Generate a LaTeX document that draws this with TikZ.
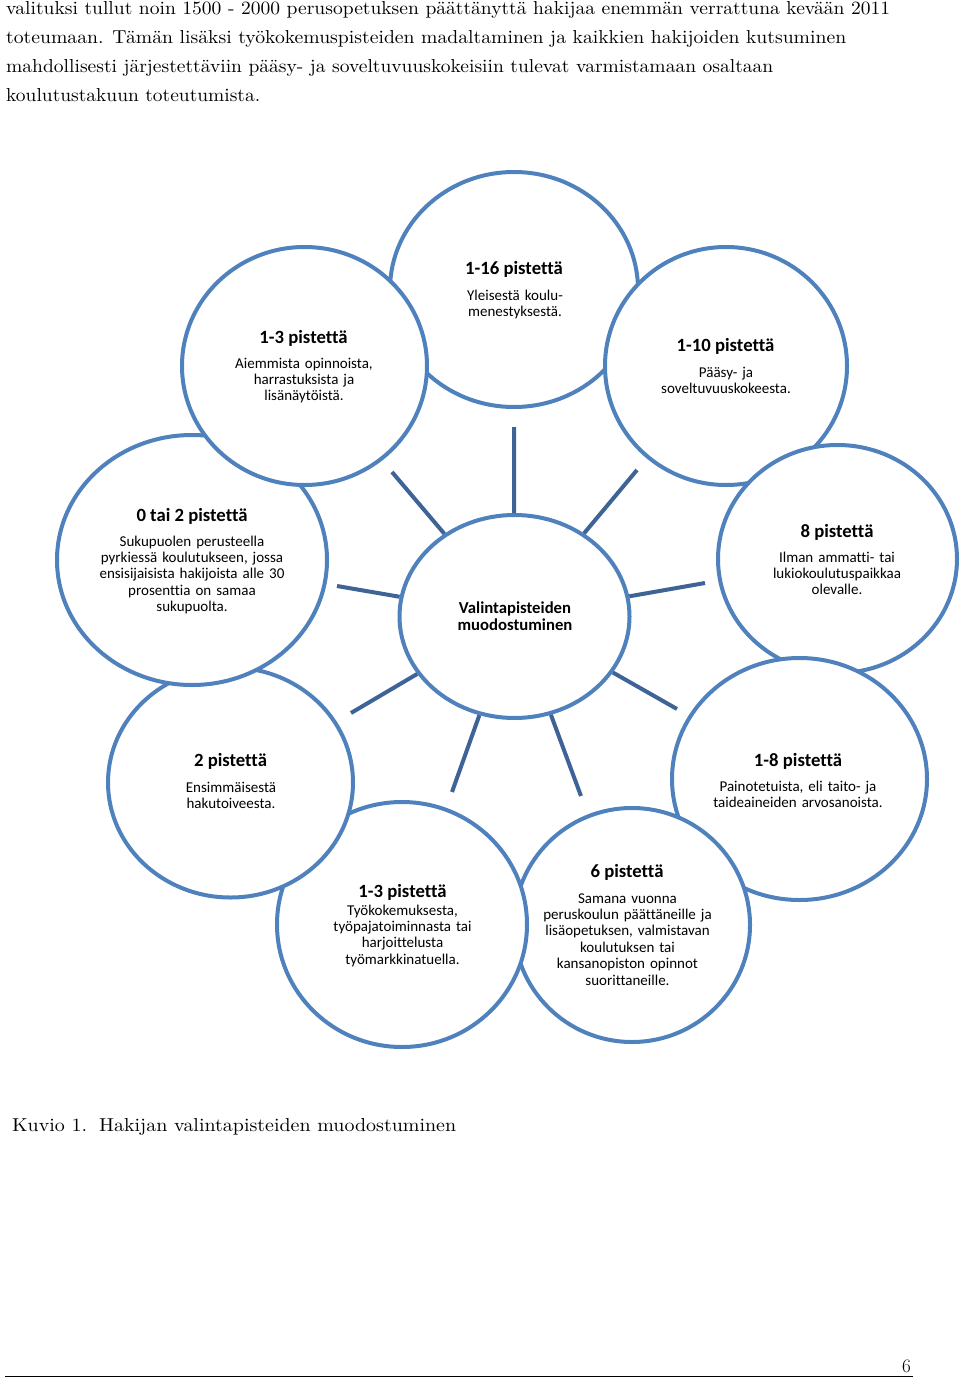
\documentclass[tikz,border=0pt]{standalone}
\usepackage{fontspec}
\usepackage{graphicx}
\newfontfamily\carl[Ligatures=NoCommon]{Carlito}
\usetikzlibrary{shapes.geometric}
\definecolor{bubblue}{RGB}{79,129,189}
\definecolor{spokeblue}{RGB}{62,99,150}
\begin{document}
\begin{tikzpicture}[x=1pt,y=-1pt,
  bubble/.style={ellipse, draw=bubblue, line width=4pt, fill=white, inner sep=0pt},
  spoke/.style={draw=spokeblue, line width=4pt},
  ttl/.style={anchor=base, inner sep=0pt, font=\carl\bfseries\fontsize{18.7}{20}\selectfont},
  bdy/.style={anchor=base, inner sep=0pt, text width=260pt, align=center, font=\carl\fontsize{15}{16.4}\selectfont},
  para/.style={anchor=base west, inner sep=0pt}]
\useasboundingbox (0,0) rectangle (960,1378);
\fill[white] (0,0) rectangle (960,1378);

% top paragraph
\node[para] (p1) at (6,15) {\resizebox{884pt}{13pt}{valituksi tullut noin 1500 - 2000 perusopetuksen päättänyttä hakijaa enemmän verrattuna kevään 2011}};
\node[para] (p2) at (6,44) {\resizebox{840pt}{13pt}{toteumaan. Tämän lisäksi työkokemuspisteiden madaltaminen ja kaikkien hakijoiden kutsuminen}};
\node[para] (p3) at (6,73) {\resizebox{767pt}{13pt}{mahdollisesti järjestettäviin pääsy- ja soveltuvuuskokeisiin tulevat varmistamaan osaltaan}};
\node[para] (p4) at (6,102) {\resizebox{254pt}{13pt}{koulutustakuun toteutumista.}};

% circles (drawing order gives the overlaps)
\node[bubble, minimum width=248pt, minimum height=235pt] (c16) at (514,289.5) {};
\node[bubble, minimum width=242pt, minimum height=238pt] (c110) at (726,366) {};
\node[bubble, minimum width=239pt, minimum height=228pt] (c8) at (837.5,559) {};
\node[bubble, minimum width=255pt, minimum height=242pt] (c18) at (799.5,779) {};
\node[bubble, minimum width=236pt, minimum height=234pt] (c6) at (632,925) {};
\node[bubble, minimum width=250pt, minimum height=245pt] (cty) at (402,924.5) {};
\node[bubble, minimum width=245pt, minimum height=230pt] (c2) at (230.5,782.5) {};
\node[bubble, minimum width=270pt, minimum height=250pt] (c02) at (192,560) {};
\node[bubble, minimum width=245pt, minimum height=238pt] (c13) at (304.5,366) {};
\node[bubble, minimum width=230pt, minimum height=203pt] (cc) at (514.5,616.5) {};

% spokes
\coordinate (s1) at (514,427);
\coordinate (s2) at (392,472);
\coordinate (s3) at (637,470);
\coordinate (s4) at (337,586);
\coordinate (s5) at (705,583);
\coordinate (s6) at (351,713);
\coordinate (s7) at (677,709);
\coordinate (s8) at (452,792);
\coordinate (s9) at (581,796);
\foreach \s in {s1,s2,s3,s4,s5,s6,s7,s8,s9} \draw[spoke] (cc) -- (\s);

% texts
\node[ttl] (t16) at (514,274) {1-16 pistettä};
\node[bdy] (b16) at (515,300) {Yleisestä koulu-\\menestyksestä.};

\node[ttl] (t13) at (303.5,343) {1-3 pistettä};
\node[bdy] (b13) at (304,368) {Aiemmista opinnoista,\\harrastuksista ja\\lisänäytöistä.};

\node[ttl] (t110) at (725.5,351) {1-10 pistettä};
\node[bdy] (b110) at (726,377) {Pääsy- ja\\soveltuvuuskokeesta.};

\node[ttl] (t02) at (192,521) {0 tai 2 pistettä};
\node[bdy] (b02) at (192,546) {Sukupuolen perusteella\\pyrkiessä koulutukseen, jossa\\ensisijaisista hakijoista alle 30\\prosenttia on samaa\\sukupuolta.};

\node[anchor=base, inner sep=0pt, text width=230pt, align=center, font=\carl\bfseries\fontsize{16.7}{17.4}\selectfont] (tc) at (515,613) {Valintapisteiden\\muodostuminen};

\node[ttl] (t8) at (837,537) {8 pistettä};
\node[bdy] (b8) at (837,562) {Ilman ammatti- tai\\lukiokoulutuspaikkaa\\olevalle.};

\node[ttl] (t2) at (230.5,766) {2 pistettä};
\node[bdy] (b2) at (231,792) {Ensimmäisestä\\hakutoiveesta.};

\node[ttl] (t18) at (798,766) {1-8 pistettä};
\node[bdy] (b18) at (798,791) {Painotetuista, eli taito- ja\\taideaineiden arvosanoista.};

\node[ttl] (tty) at (402.5,897) {1-3 pistettä};
\node[bdy] (bty) at (402.5,915) {Työkokemuksesta,\\työpajatoiminnasta tai\\harjoittelusta\\työmarkkinatuella.};

\node[ttl] (t6) at (627,877) {6 pistettä};
\node[bdy] (b6) at (627.5,903) {Samana vuonna\\peruskoulun päättäneille ja\\lisäopetuksen, valmistavan\\koulutuksen tai\\kansanopiston opinnot\\suorittaneille.};

% caption, page number, rule
\node[para] (cap) at (12,1131) {\resizebox{444pt}{13pt}{Kuvio 1.\hspace{0.6em}Hakijan valintapisteiden muodostuminen}};
\node[anchor=base east, inner sep=0pt, font=\fontsize{19}{20}\selectfont] (pg) at (911,1372) {6};
\coordinate (ra) at (5,1376.5);
\coordinate (rb) at (913,1376.5);
\draw[line width=1.2pt] (ra) -- (rb);
\end{tikzpicture}
\end{document}
